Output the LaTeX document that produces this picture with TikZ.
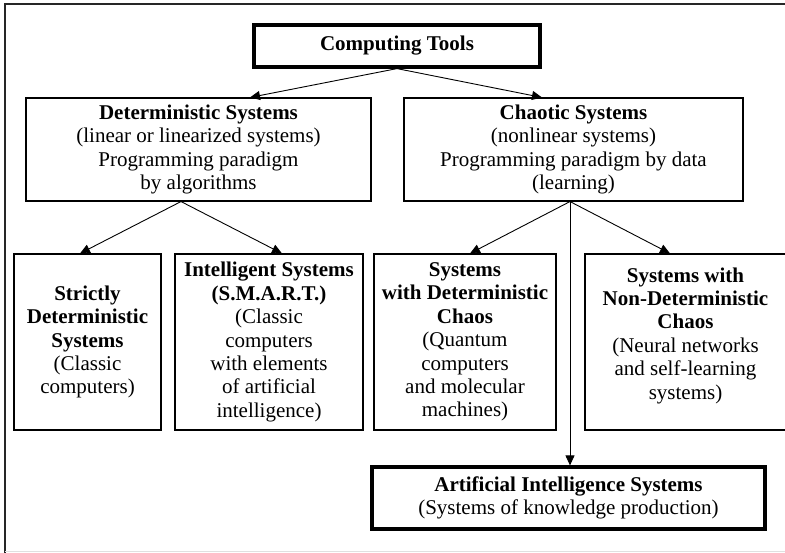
\documentclass[tikz,border=0pt]{standalone}
\usepackage{fontspec}
\setmainfont{Liberation Serif}
\usetikzlibrary{arrows.meta}

\begin{document}
\begin{tikzpicture}[x=1pt,y=-1pt,
  box/.style={draw, line width=1.1pt, rectangle, inner sep=0pt, align=center,
    font=\fontsize{21}{23.4}\selectfont},
  thickbox/.style={box, line width=3.2pt},
  link/.style={line width=0.9pt, -{Triangle[length=10pt,width=9pt]}}]
  \useasboundingbox (0,0) rectangle (785,552);
  \clip (0,0) rectangle (785,552);

  % outer frame
  \draw[line width=2pt, black!85] (5,560) -- (5,3.5) -- (790,3.5);
  \draw[line width=1pt, black!12] (5,551) -- (790,551);

  % top level
  \node[thickbox, minimum width=286pt, minimum height=42pt] (ct) at (397,46)
    {\textbf{Computing Tools}};

  % second level
  \node[box, minimum width=345pt, minimum height=103pt] (det) at (198.5,149.5)
    {\textbf{Deterministic Systems}\\(linear or linearized systems)\\Programming paradigm\\by algorithms};
  \node[box, minimum width=339pt, minimum height=103pt] (chaos) at (573.5,149.5)
    {\textbf{Chaotic Systems}\\(nonlinear systems)\\Programming paradigm by data\\(learning)};

  % third level
  \node[box, minimum width=147pt, minimum height=176pt] (strict) at (87.5,342)
    {\textbf{Strictly}\\\textbf{Deterministic}\\\textbf{Systems}\\(Classic\\computers)};
  \node[box, minimum width=188pt, minimum height=176pt] (intel) at (269,342)
    {\textbf{Intelligent Systems}\\\textbf{(S.M.A.R.T.)}\\(Classic\\computers\\with elements\\of artificial\\intelligence)};
  \node[box, minimum width=182pt, minimum height=176pt] (dchaos) at (465,342)
    {\textbf{Systems}\\\textbf{with Deterministic}\\\textbf{Chaos}\\(Quantum\\computers\\and molecular\\machines)};
  \node[box, minimum width=201pt, minimum height=176pt] (ndchaos) at (685.5,342)
    {\textbf{Systems with}\\\textbf{Non-Deterministic}\\\textbf{Chaos}\\(Neural networks\\and self-learning\\systems)\\[-6pt]};

  % result
  \node[thickbox, minimum width=393pt, minimum height=62pt] (ai) at (568.5,498)
    {\textbf{Artificial Intelligence Systems}\\(Systems of knowledge production)};

  % connectors
  \draw[link] (ct.south) -- ([xshift=51.5pt]det.north);
  \draw[link] (ct.south) -- ([xshift=-31.5pt]chaos.north);

  \coordinate (detout) at ([xshift=-17.5pt]det.south);
  \draw[link] (detout) -- ([xshift=-7.5pt]strict.north);
  \draw[link] (detout) -- ([xshift=13pt]intel.north);

  \coordinate (chaosout) at ([xshift=-3.5pt]chaos.south);
  \draw[link] (chaosout) -- ([xshift=5pt]dchaos.north);
  \draw[link] (chaosout) -- ([xshift=-15.5pt]ndchaos.north);
  \draw[link] (chaosout) -- (chaosout |- ai.north);
\end{tikzpicture}
\end{document}
